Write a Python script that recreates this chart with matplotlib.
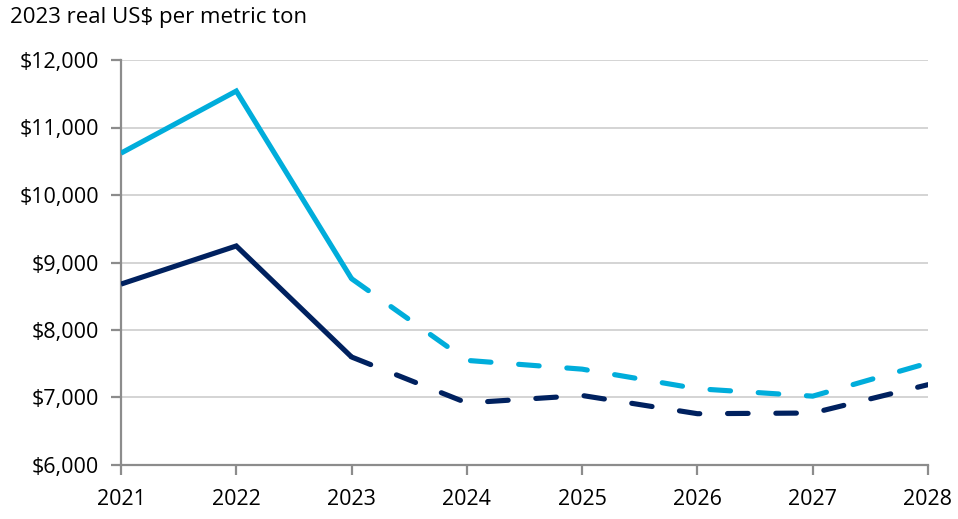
import matplotlib
matplotlib.use("Agg")
import matplotlib.pyplot as plt
from matplotlib.ticker import FuncFormatter

plt.rcParams['font.family'] = ['Open Sans', 'DejaVu Sans']

years = [2021, 2022, 2023, 2024, 2025, 2026, 2027, 2028]
high_price = [10620, 11540, 8760, 7550, 7420, 7130, 7020, 7510]
low_price = [8680, 9245, 7600, 6920, 7030, 6760, 6770, 7190]
actual_end = 2023  # solid up to here, dashed forecast afterwards

light = '#00ADDB'
dark = '#00215F'

fig = plt.figure(figsize=(9.58, 5.19), dpi=100)
ax = fig.add_axes([121 / 958, 1 - 465 / 519, (928 - 121) / 958, (465 - 60) / 519])

split = years.index(actual_end)
lw = 3.7
for vals, col in [(high_price, light), (low_price, dark)]:
    ax.plot(years[:split + 1], vals[:split + 1], color=col, lw=lw,
            solid_capstyle='butt', solid_joinstyle='miter', zorder=3)
    ax.plot(years[split:], vals[split:], color=col, lw=lw,
            ls=(0, (4, 5.4)), dash_capstyle='round', zorder=3)

ax.set_xlim(2021, 2028)
ax.set_ylim(6000, 12000)
ax.set_xticks(years)
ax.set_yticks(range(6000, 12001, 1000))
ax.yaxis.set_major_formatter(FuncFormatter(lambda v, p: f"${v:,.0f}"))

ax.grid(axis='y', color='#d4d4d4', lw=1.4, zorder=0)
for s in ['top', 'right']:
    ax.spines[s].set_visible(False)
for s in ['left', 'bottom']:
    ax.spines[s].set_color('#8c8c8c')
    ax.spines[s].set_linewidth(1.6)

ax.tick_params(axis='both', colors='#8c8c8c', width=1.6, length=7,
               labelcolor='black', labelsize=15.5)
ax.tick_params(axis='y', pad=9)
ax.tick_params(axis='x', pad=10)

fig.text(10 / 958, 1 - 18 / 519, "2023 real US$ per metric ton",
         fontsize=16, va='center', ha='left')

fig.savefig('out.png', dpi=100)
